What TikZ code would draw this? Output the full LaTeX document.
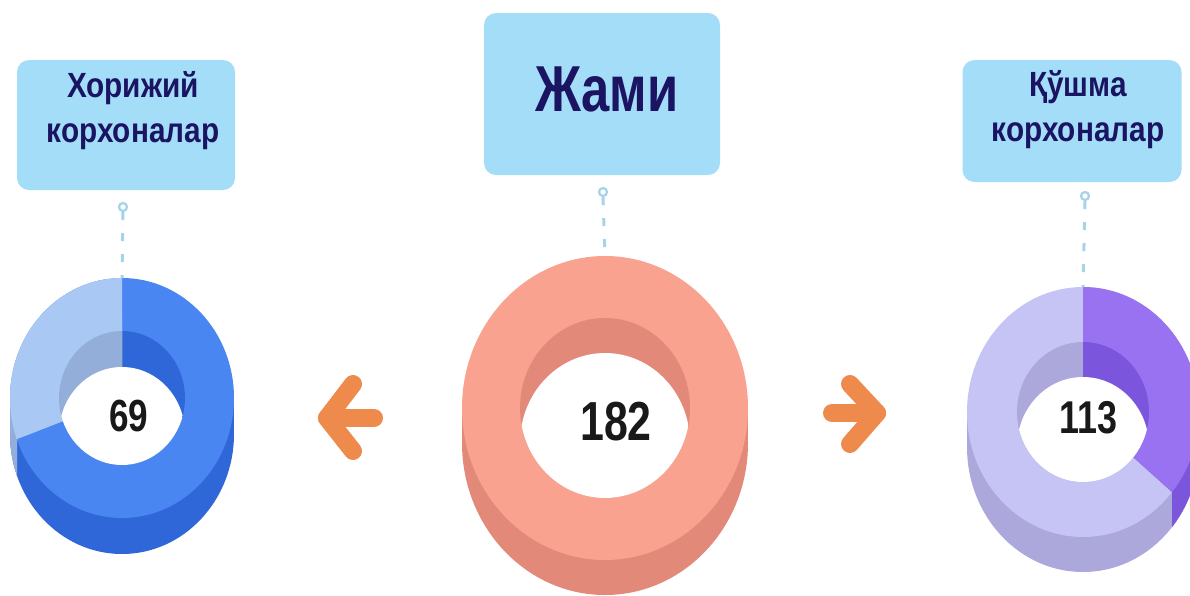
\documentclass[tikz,border=0pt]{standalone}
\usepackage{fontspec}
\setmainfont{Liberation Sans}[FakeStretch=0.78]
\newfontfamily\lblfont{Liberation Sans}[FakeStretch=0.85]
\definecolor{boxblue}{HTML}{A4DDF8}
\definecolor{navy}{HTML}{1B1463}
\definecolor{pinblue}{HTML}{A6D2EA}
\definecolor{arroworange}{HTML}{EE8A4C}
\definecolor{blueL}{HTML}{AAC8F4}
\definecolor{blueLs}{HTML}{94AEDA}
\definecolor{blueD}{HTML}{4A86F1}
\definecolor{blueDs}{HTML}{2F67D9}
\definecolor{salmonT}{HTML}{F9A290}
\definecolor{salmonS}{HTML}{E2897A}
\definecolor{lavT}{HTML}{C6C3F5}
\definecolor{lavS}{HTML}{ACA8DC}
\definecolor{violT}{HTML}{9872F1}
\definecolor{violS}{HTML}{7B56DC}
% ring body: cx cy rx ry ix iy depth top side
\newcommand{\ringdisk}[9]{%
  \fill[#9] (#1-#3,#2) rectangle (#1+#3,#2+#7);
  \fill[#9] (#1,#2+#7) ellipse [x radius=#3, y radius=#4];
  \fill[#8] (#1,#2) ellipse [x radius=#3, y radius=#4];
  \fill[#9] (#1,#2) ellipse [x radius=#5, y radius=#6];}
% hole seen through the ring: cx cy ix iy depth
\newcommand{\ringhole}[5]{%
  \begin{scope}
    \clip (#1,#2) ellipse [x radius=#3, y radius=#4];
    \fill[white] (#1,#2+#5) ellipse [x radius=#3, y radius=#4];
  \end{scope}}
\begin{document}
\begin{tikzpicture}[x=1pt,y=-1pt,
  lblbox/.style={fill=boxblue, rounded corners=12pt, inner sep=0},
  lbltext/.style={text=navy, font=\lblfont\bfseries\fontsize{35}{45}\selectfont, align=center, inner sep=0},
  pin/.style={circle, draw=pinblue, line width=2.2pt, fill=white, inner sep=0, minimum size=8pt},
  pinline/.style={pinblue, line width=3pt, dash pattern=on 8pt off 13pt},
  numtext/.style={font=\bfseries\fontsize{#1}{#1}\selectfont, text=black!90, inner sep=0},
  orangearrow/.style={arroworange, line width=18pt, line cap=round, line join=round}]
\useasboundingbox (0,0) rectangle (1190,595);
\clip (0,0) rectangle (1190,595);

% label boxes
\node[lblbox, minimum width=218pt, minimum height=130pt] (boxL) at (126,125) {};
\node[lbltext] (txtL) at (133,111) {Хорижий\\корхоналар};
\node[lblbox, minimum width=236pt, minimum height=162pt] (boxC) at (602,94) {};
\node[lbltext, font=\bfseries\fontsize{65}{70}\selectfont] (txtC) at (607,89) {Жами};
\node[lblbox, minimum width=219pt, minimum height=122pt] (boxR) at (1072,121) {};
\node[lbltext] (txtR) at (1078,110) {Қўшма\\корхоналар};

% donuts
\ringdisk{122}{398}{112}{120}{63}{67}{36}{blueD}{blueDs}
\begin{scope}
  \clip (122,398) -- (122,250) -- (0,250) -- (0,600) -- (17,600) -- (17,439) -- cycle;
  \ringdisk{122}{398}{112}{120}{63}{67}{36}{blueL}{blueLs}
\end{scope}
\ringhole{122}{398}{63}{67}{36}
\ringdisk{605}{408}{143}{152}{85}{90}{35}{salmonT}{salmonS}
\ringhole{605}{408}{85}{90}{35}
\ringdisk{1083}{412}{116}{125}{66}{70}{35}{lavT}{lavS}
\begin{scope}
  \clip (1083,412) -- (1083,250) -- (1200,250) -- (1200,600) -- (1172,600) -- (1172,492) -- cycle;
  \ringdisk{1083}{412}{116}{125}{66}{70}{35}{violT}{violS}
\end{scope}
\ringhole{1083}{412}{66}{70}{35}

% pins
\coordinate (topL) at (122,278);
\coordinate (topC) at (605,256);
\coordinate (topR) at (1083,287);
\node[pin] (pinL) at (123,207) {};
\node[pin] (pinC) at (603,192) {};
\node[pin] (pinR) at (1085,196) {};
\draw[pinline] (pinL.south) -- (topL);
\draw[pinline] (pinC.south) -- (topC);
\draw[pinline] (pinR.south) -- (topR);

% values
\node[numtext=45] (numL) at (129,416) {69};
\node[numtext=55] (numC) at (616,422) {182};
\node[numtext=46] (numR) at (1088,418) {113};

% arrows
\draw[orangearrow] (353,384) -- (327,418) -- (353,451);
\draw[orangearrow] (327,418) -- (374,418);
\draw[orangearrow] (850,384) -- (877,413) -- (850,444);
\draw[orangearrow] (832,413) -- (877,413);
\end{tikzpicture}
\end{document}
